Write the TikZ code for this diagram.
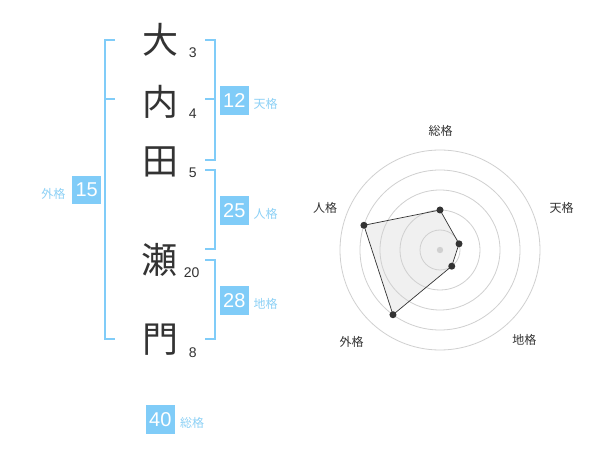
\documentclass[tikz,border=0pt]{standalone}
\usepackage{fontspec}
\setmainfont{Noto Sans CJK JP}
\newfontfamily\numfont{Liberation Sans}
\definecolor{kakublue}{HTML}{80CCF8}
\definecolor{kakutext}{HTML}{8DD1F6}
\definecolor{inkgray}{HTML}{333333}
\definecolor{ringgray}{HTML}{D0D0D0}
\definecolor{areagray}{HTML}{F0F0F0}
\tikzset{
  kanji/.style={font=\fontsize{36}{36}\selectfont,text=inkgray,inner sep=0pt},
  strokes/.style={font=\numfont\fontsize{14}{14}\selectfont,text=inkgray,inner sep=0pt},
  kakubox/.style={fill=kakublue,text=white,minimum size=28.7pt,inner sep=0pt,font=\numfont\fontsize{20}{20}\selectfont},
  kakuname/.style={text=kakutext,font=\fontsize{12}{12}\selectfont,inner sep=0pt},
  brace/.style={draw=kakublue,line width=2pt},
  axisname/.style={text=inkgray,font=\fontsize{12}{12}\selectfont,inner sep=0pt},
  ring/.style={draw=ringgray,line width=0.8pt},
  dot/.style={circle,fill=inkgray,inner sep=0pt,minimum size=7pt}
}
\begin{document}
\begin{tikzpicture}[x=1pt,y=-1pt]
\useasboundingbox[fill=white](0,0) rectangle (600,470);
\pgfmathsetmacro{\bl}{105}
\pgfmathsetmacro{\br}{215}
\pgfmathsetmacro{\tk}{10}
\node[kanji](k1)at(160,40){大};
\node[kanji](k2)at(160,101.7){内};
\node[kanji](k3)at(160,161.7){田};
\node[kanji](k4)at(159.3,260){瀬};
\node[kanji](k5)at(160,340){門};
\node[strokes](s1)at(192.7,52.7){3};
\node[strokes](s2)at(192.7,113.3){4};
\node[strokes](s3)at(192.7,172.7){5};
\node[strokes](s4)at(191.7,272.7){20};
\node[strokes](s5)at(192.7,352.7){8};
\draw[brace](\bl+\tk,40)--(\bl,40)--(\bl,339.3)--++(\tk,0) (\bl,99.5)--++(\tk,0);
\draw[brace](\br-\tk,40)--(\br,40)--(\br,160)--++(-\tk,0) (\br,99.5)--++(-\tk,0);
\draw[brace](\br-\tk,170)--(\br,170)--(\br,249.3)--++(-\tk,0);
\draw[brace](\br-\tk,260)--(\br,260)--(\br,339.3)--++(-\tk,0);
\node[kakubox](ten)at(234.3,100.3){12};
\node[kakuname](tenl)at(265.7,104.3){天格};
\node[kakubox](jin)at(234.3,210.3){25};
\node[kakuname](jinl)at(265.7,213.5){人格};
\node[kakubox](chi)at(234.3,300.3){28};
\node[kakuname](chil)at(265.7,304){地格};
\node[kakubox](gai)at(86.7,190){15};
\node[kakuname](gail)at(53.3,193.5){外格};
\node[kakubox](sou)at(160.3,419.3){40};
\node[kakuname](soul)at(192,422.7){総格};
\begin{scope}[shift={(440,250)}]
\fill[areagray](-90:40)coordinate(psou)--(-18:20)coordinate(pten)--(54:20)coordinate(pchi)
  --(126:80)coordinate(pgai)--(198:80)coordinate(pjin)--cycle;
\foreach \r in {20,40,...,100}
  \draw[ring](0,0) circle (\r);
\fill[ringgray](0,0) circle (3.2);
\draw[inkgray,line width=0.7pt](psou)--(pten)--(pchi)--(pgai)--(pjin)--cycle;
\foreach \p in {psou,pten,pchi,pgai,pjin}
  \node[dot]at(\p){};
\end{scope}
\node[axisname](asou)at(440.7,130.7){総格};
\node[axisname](aten)at(561.7,208.3){天格};
\node[axisname](ajin)at(325,208.3){人格};
\node[axisname](agai)at(351.7,341.7){外格};
\node[axisname](achi)at(524.3,340){地格};
\end{tikzpicture}
\end{document}
